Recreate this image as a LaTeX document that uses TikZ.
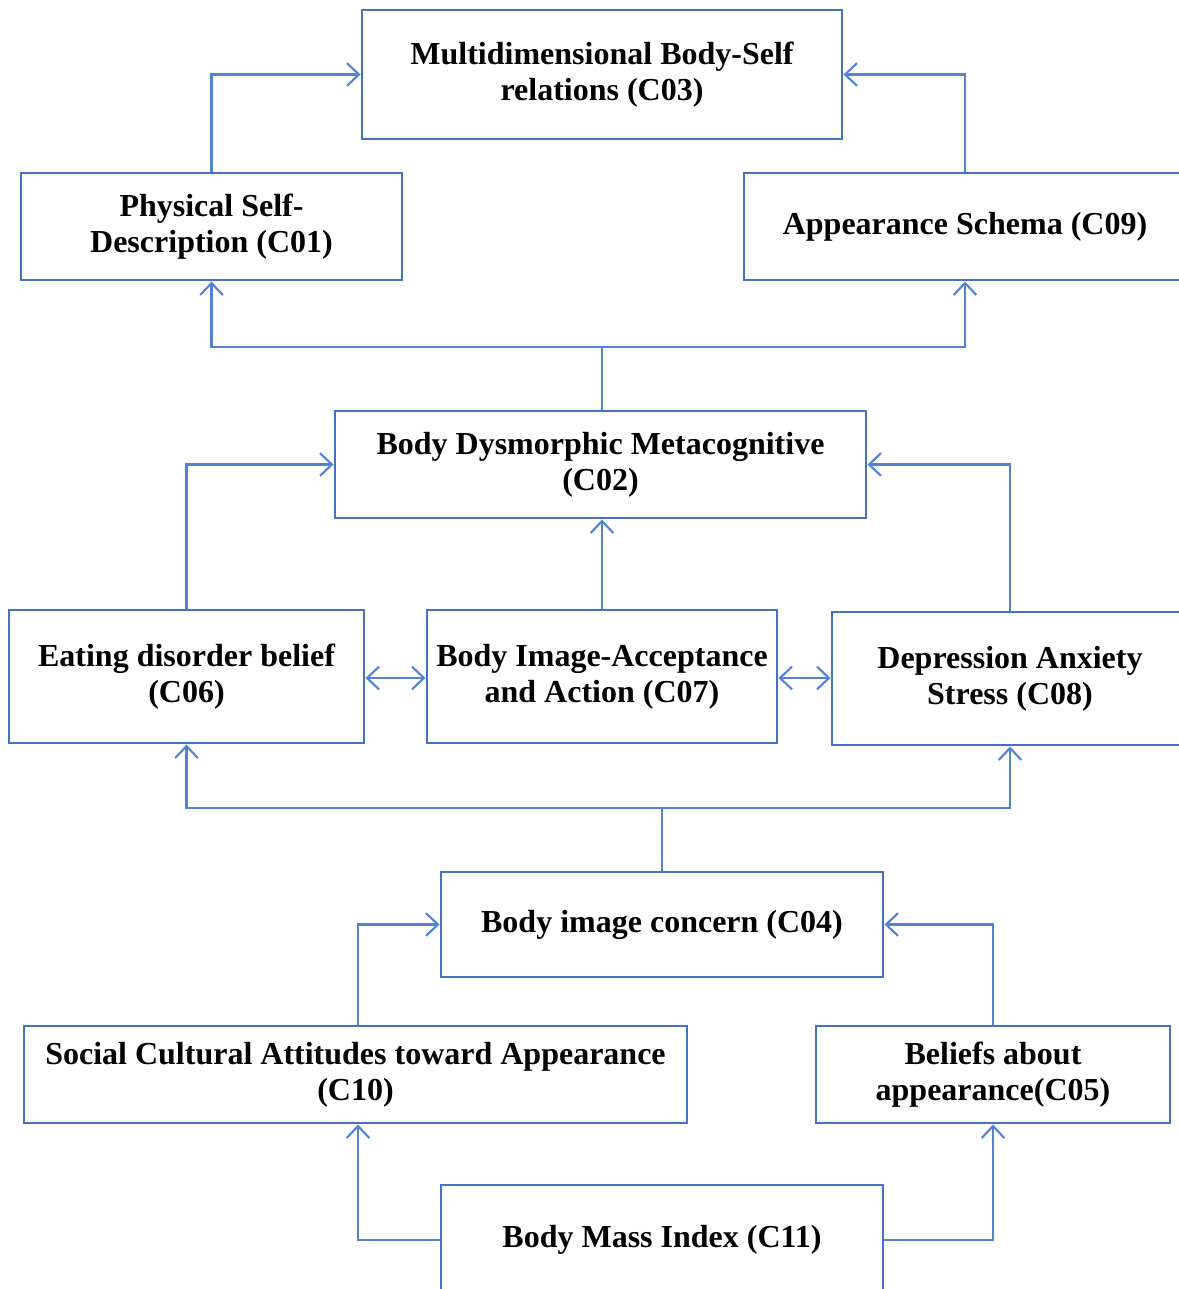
\documentclass[tikz,border=0pt]{standalone}
\usepackage{fontspec}
\setmainfont{Liberation Serif}
\usetikzlibrary{arrows.meta}
\definecolor{boxblue}{HTML}{4472C4}
\definecolor{lineblue}{HTML}{5283D6}
\begin{document}
\begin{tikzpicture}[x=0.375pt,y=-0.375pt,
		cbox/.style={draw=boxblue,line width=1.1pt,align=center,inner sep=0pt,font=\fontsize{12}{13.6}\selectfont\bfseries},
		link/.style={draw=lineblue,line width=0.8pt,-{Straight Barb[length=4.5pt,width=8.5pt]}},
		both/.style={link,{Straight Barb[length=4.5pt,width=8.5pt]}-{Straight Barb[length=4.5pt,width=8.5pt]}}]
			\useasboundingbox (0,0) rectangle (1179,1289);
			\clip (0,0) rectangle (1179,1289);
			
			\node[cbox,minimum width=480*0.375pt,minimum height=129*0.375pt] (c03) at (602,74.5) {Multidimensional Body-Self\\relations (C03)};
			\node[cbox,minimum width=381*0.375pt,minimum height=107*0.375pt] (c01) at (211.5,226.5) {Physical Self-\\Description (C01)};
			\node[cbox,minimum width=442*0.375pt,minimum height=107*0.375pt] (c09) at (965,226.5) {Appearance Schema (C09)};
			\node[cbox,minimum width=531*0.375pt,minimum height=107*0.375pt] (c02) at (600.5,464.5) {Body Dysmorphic Metacognitive\\(C02)};
			\node[cbox,minimum width=355*0.375pt,minimum height=133*0.375pt] (c06) at (186.5,676.5) {Eating disorder belief\\(C06)};
			\node[cbox,minimum width=350*0.375pt,minimum height=133*0.375pt] (c07) at (602,676.5) {Body Image-Acceptance\\and Action (C07)};
			\node[cbox,minimum width=356*0.375pt,minimum height=133*0.375pt] (c08) at (1010,678.5) {Depression Anxiety\\Stress (C08)};
			\node[cbox,minimum width=442*0.375pt,minimum height=105*0.375pt] (c04) at (662,924.5) {Body image concern (C04)};
			\node[cbox,minimum width=663*0.375pt,minimum height=97*0.375pt] (c10) at (355.5,1074.5) {Social Cultural Attitudes toward Appearance\\(C10)};
			\node[cbox,minimum width=354*0.375pt,minimum height=97*0.375pt] (c05) at (993,1074.5) {Beliefs about\\appearance(C05)};
			\node[cbox,minimum width=442*0.375pt,minimum height=110*0.375pt] (c11) at (662,1240) {Body Mass Index (C11)};
			
			\coordinate (top) at (602,347);
			\coordinate (mid) at (662,808);
			
			% upper level
			\draw[link] (c01.north) |- (c03.west);
			\draw[link] (c09.north) |- (c03.east);
			\draw[link,-] (top |- c02.north) -- (top);
			\draw[link] (top) -| (c01.south);
			\draw[link] (top) -| (c09.south);
			
			% middle level
			\draw[link] (c06.north) |- (c02.west);
			\draw[link] (c08.north) |- (c02.east);
			\draw[link] (c07.north) -- (c07.north |- c02.south);
			\draw[both] (c06.east |- 0,678) -- (c07.west |- 0,678);
			\draw[both] (c07.east |- 0,678) -- (c08.west |- 0,678);
			\draw[link,-] (c04.north) -- (mid);
			\draw[link] (mid) -| (c06.south);
			\draw[link] (mid) -| (c08.south);
			
			% lower level
			\draw[link] (c10.north -| 358,0) |- (c04.west);
			\draw[link] (c05.north) |- (c04.east);
			\draw[link] (c11.west) -| (c10.south -| 358,0);
			\draw[link] (c11.east) -| (c05.south);
		\end{tikzpicture}
\end{document}
